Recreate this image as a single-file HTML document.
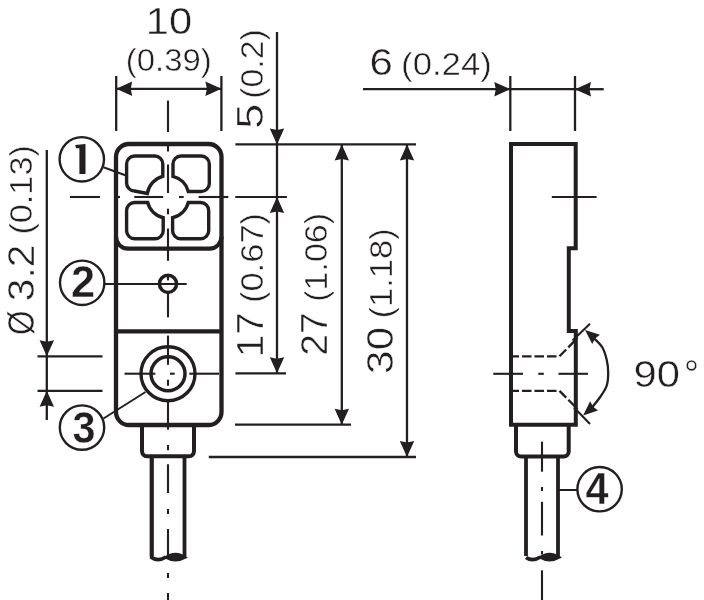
<!DOCTYPE html>
<html><head><meta charset="utf-8"><style>
html,body{margin:0;padding:0;background:#fff;width:704px;height:600px;overflow:hidden}
svg{display:block;will-change:transform}
text{font-family:"Liberation Sans",sans-serif;fill:#231f20;stroke:#fff;stroke-width:0.45px}
text[font-weight=bold]{stroke-width:0.4px}
</style></head><body>
<svg width="704" height="600" viewBox="0 0 704 600">
<g fill="none" stroke="#231f20" stroke-linecap="butt">
<path d="M116,157 A13,13 0 0 1 129,144 H208.5 A13,13 0 0 1 221.5,157 V412 A13,13 0 0 1 208.5,425 H129 A13,13 0 0 1 116,412 Z" stroke-width="4.3"/>
<path d="M116,236.5 A12,12 0 0 0 128,248.7 H209.5 A12,12 0 0 0 221.5,236.5" stroke-width="4.2"/>
<line x1="116" y1="331.3" x2="221.5" y2="331.3" stroke-width="4.2"/>
<path d="M126.6,164 A8,8 0 0 1 134.6,156 H154.8 A8,8 0 0 1 162.8,164 V176.3 A21,21 0 0 0 147.3,193.4 L134.6,191 A8,8 0 0 1 126.6,183 Z" stroke-width="3.4"/>
<path d="M173,176.3 V164 A8,8 0 0 1 181,156 H201.3 A8,8 0 0 1 209.3,164 V183.5 A8,8 0 0 1 201.3,191.5 H188.3 A21,21 0 0 0 173,176.3 Z" stroke-width="3.4"/>
<path d="M126.6,210.5 A8,8 0 0 1 134.6,202.5 H147.7 A21,21 0 0 0 163.2,217.6 V230.7 A8,8 0 0 1 155.2,238.7 H134.6 A8,8 0 0 1 126.6,230.7 Z" stroke-width="3.4"/>
<path d="M172.6,217.6 A21,21 0 0 0 188.3,202.5 H200.7 A8,8 0 0 1 208.7,210.5 V230.7 A8,8 0 0 1 200.7,238.7 H180.6 A8,8 0 0 1 172.6,230.7 Z" stroke-width="3.4"/>
<circle cx="168" cy="283.8" r="8.6" stroke-width="3.5"/>
<circle cx="168" cy="373.7" r="27" stroke-width="3.4"/>
<circle cx="168" cy="373.7" r="17" stroke-width="3.5"/>
<path d="M142,425 V451.3 A5,5 0 0 0 147,456.3 H189 A5,5 0 0 0 194,451.3 V425" stroke-width="4"/>
<path d="M151.7,456 V557.5 Q158,562 166,557" stroke-width="3.8"/>
<path d="M151.7,456 V556" stroke-width="3.8"/>
<path d="M184.5,456 V556" stroke-width="3.8"/>
<path d="M165,557.4 Q175.5,550 186,557.4 Q175.5,563.5 165,557.4 Z" fill="#231f20" stroke-width="2"/>
<line x1="168" y1="100.5" x2="168" y2="132" stroke-width="2.1"/>
<line x1="168" y1="146" x2="168" y2="151.5" stroke-width="2.1"/>
<line x1="168" y1="164.5" x2="168" y2="193" stroke-width="2.1"/>
<line x1="168" y1="208.7" x2="168" y2="214.3" stroke-width="2.1"/>
<line x1="168" y1="228.5" x2="168" y2="260.8" stroke-width="2.1"/>
<line x1="168" y1="276.7" x2="168" y2="280.4" stroke-width="2.1"/>
<line x1="168" y1="292" x2="168" y2="317.4" stroke-width="2.1"/>
<line x1="168" y1="335.6" x2="168" y2="364.8" stroke-width="2.1"/>
<line x1="168" y1="379.7" x2="168" y2="385.7" stroke-width="2.1"/>
<line x1="168" y1="400.3" x2="168" y2="429.7" stroke-width="2.1"/>
<line x1="168" y1="445" x2="168" y2="450.3" stroke-width="2.1"/>
<line x1="168" y1="464.3" x2="168" y2="493" stroke-width="2.1"/>
<line x1="168" y1="509" x2="168" y2="514" stroke-width="2.1"/>
<line x1="168" y1="529" x2="168" y2="556" stroke-width="2.1"/>
<line x1="168" y1="573" x2="168" y2="578" stroke-width="2.1"/>
<line x1="168" y1="593" x2="168" y2="600" stroke-width="2.1"/>
<line x1="70" y1="197" x2="100" y2="197" stroke-width="2.1"/>
<line x1="116" y1="197" x2="120" y2="197" stroke-width="2.1"/>
<line x1="134.3" y1="197" x2="163.2" y2="197" stroke-width="2.1"/>
<line x1="179" y1="197" x2="183.7" y2="197" stroke-width="2.1"/>
<line x1="198.6" y1="197" x2="228.3" y2="197" stroke-width="2.1"/>
<line x1="235.3" y1="197" x2="286.9" y2="197" stroke-width="2.1"/>
<line x1="105" y1="284" x2="186.7" y2="284" stroke-width="2.1"/>
<line x1="124.5" y1="373.7" x2="155.3" y2="373.7" stroke-width="2.1"/>
<line x1="170" y1="373.7" x2="174.7" y2="373.7" stroke-width="2.1"/>
<line x1="189.3" y1="373.7" x2="219" y2="373.7" stroke-width="2.1"/>
<line x1="116.2" y1="76" x2="116.2" y2="131" stroke-width="2.3"/>
<line x1="221.4" y1="76" x2="221.4" y2="131" stroke-width="2.3"/>
<line x1="117" y1="88.8" x2="221" y2="88.8" stroke-width="2.3"/>
<path d="M116.20,88.80 L132.20,81.60 L130.70,88.80 L132.20,96.00Z" fill="#231f20" stroke="none"/>
<path d="M221.40,88.80 L205.40,96.00 L206.90,88.80 L205.40,81.60Z" fill="#231f20" stroke="none"/>
<line x1="277" y1="32" x2="277" y2="373.3" stroke-width="2.3"/>
<path d="M277.00,144.40 L269.80,128.40 L277.00,129.90 L284.20,128.40Z" fill="#231f20" stroke="none"/>
<path d="M277.00,197.00 L284.20,213.00 L277.00,211.50 L269.80,213.00Z" fill="#231f20" stroke="none"/>
<path d="M277.00,373.30 L269.80,357.30 L277.00,358.80 L284.20,357.30Z" fill="#231f20" stroke="none"/>
<line x1="235.4" y1="144.4" x2="416" y2="144.4" stroke-width="2.3"/>
<line x1="235.4" y1="373.3" x2="286" y2="373.3" stroke-width="2.3"/>
<line x1="341.8" y1="144.4" x2="341.8" y2="424.7" stroke-width="2.3"/>
<path d="M341.80,144.40 L349.00,160.40 L341.80,158.90 L334.60,160.40Z" fill="#231f20" stroke="none"/>
<path d="M341.80,424.70 L334.60,408.70 L341.80,410.20 L349.00,408.70Z" fill="#231f20" stroke="none"/>
<line x1="235" y1="424.7" x2="351" y2="424.7" stroke-width="2.3"/>
<line x1="407" y1="144.4" x2="407" y2="457" stroke-width="2.3"/>
<path d="M407.00,144.40 L414.20,160.40 L407.00,158.90 L399.80,160.40Z" fill="#231f20" stroke="none"/>
<path d="M407.00,457.00 L399.80,441.00 L407.00,442.50 L414.20,441.00Z" fill="#231f20" stroke="none"/>
<line x1="208.8" y1="457" x2="416" y2="457" stroke-width="2.3"/>
<line x1="46.8" y1="150" x2="46.8" y2="420" stroke-width="2.3"/>
<path d="M46.80,356.30 L39.60,340.30 L46.80,341.80 L54.00,340.30Z" fill="#231f20" stroke="none"/>
<path d="M46.80,390.80 L54.00,406.80 L46.80,405.30 L39.60,406.80Z" fill="#231f20" stroke="none"/>
<line x1="37.5" y1="356.3" x2="102.5" y2="356.3" stroke-width="2.3"/>
<line x1="37.5" y1="390.8" x2="102.5" y2="390.8" stroke-width="2.3"/>
<circle cx="81.8" cy="159.3" r="22.2" stroke-width="2.4"/>
<circle cx="82.2" cy="282.8" r="22.2" stroke-width="2.4"/>
<circle cx="82" cy="427.6" r="22.2" stroke-width="2.4"/>
<circle cx="599.6" cy="489.2" r="22.2" stroke-width="2.4"/>
<line x1="103.5" y1="167.3" x2="126" y2="175.5" stroke-width="2.0"/>
<line x1="103.5" y1="418.5" x2="145.5" y2="392" stroke-width="2.0"/>
<line x1="577.5" y1="490" x2="558" y2="490" stroke-width="2.0"/>
<path d="M511,144 H575.7 V248.3 H568.8 V331 H575.8 V424.7 H511 Z" stroke-width="4" stroke-linejoin="miter"/>
<path d="M516,425 V451.5 A5,5 0 0 0 521,456.5 H563.7 A5,5 0 0 0 568.7,451.5 V425" stroke-width="4"/>
<path d="M526,456 V556" stroke-width="3.8"/>
<path d="M558,456 V556" stroke-width="3.8"/>
<path d="M526,557.5 Q532.5,562 540.5,557" stroke-width="3.8"/>
<path d="M539.5,557.4 Q549.5,550 560,557.4 Q549.5,563.5 539.5,557.4 Z" fill="#231f20" stroke-width="2"/>
<path d="M509.5,356.3 H559.5 L577.5,338" stroke-width="2.3" stroke-dasharray="9.5,3"/>
<path d="M509.5,390.9 H559.5 L577.5,409" stroke-width="2.3" stroke-dasharray="9.5,3"/>
<line x1="572.5" y1="340.4" x2="590" y2="323.7" stroke-width="2.1"/>
<line x1="574" y1="407.5" x2="590" y2="424" stroke-width="2.1"/>
<path d="M593,337.2 C594.54,338.88 599.96,343.45 602.25,347.25 C604.54,351.05 605.76,355.71 606.75,360 C607.74,364.29 608.20,368.75 608.2,373 C608.20,377.25 607.99,381.62 606.75,385.5 C605.51,389.38 603.21,392.58 600.75,396.25 C598.29,399.92 593.46,405.62 592,407.5" stroke-width="2.3"/>
<path d="M585.00,330.00 L599.95,334.77 L595.16,338.58 L592.21,343.94Z" fill="#231f20" stroke="none"/>
<path d="M583.10,415.40 L590.11,401.36 L593.14,406.68 L597.98,410.42Z" fill="#231f20" stroke="none"/>
<line x1="551.8" y1="197" x2="596.6" y2="197" stroke-width="2.1"/>
<line x1="493.3" y1="373.8" x2="523" y2="373.8" stroke-width="2.1"/>
<line x1="538.3" y1="373.8" x2="543.8" y2="373.8" stroke-width="2.1"/>
<line x1="558.5" y1="373.8" x2="588" y2="373.8" stroke-width="2.1"/>
<line x1="542" y1="441.7" x2="542" y2="471.7" stroke-width="2.1"/>
<line x1="542" y1="487" x2="542" y2="491" stroke-width="2.1"/>
<line x1="542" y1="501.8" x2="542" y2="535.5" stroke-width="2.1"/>
<line x1="542" y1="551" x2="542" y2="554.5" stroke-width="2.1"/>
<line x1="542" y1="570.3" x2="542" y2="600" stroke-width="2.1"/>
<line x1="510.3" y1="76" x2="510.3" y2="131" stroke-width="2.3"/>
<line x1="575" y1="76" x2="575" y2="131" stroke-width="2.3"/>
<line x1="363" y1="89.2" x2="510" y2="89.2" stroke-width="2.3"/>
<line x1="510" y1="89.2" x2="575" y2="89.2" stroke-width="2.3"/>
<line x1="575" y1="89.2" x2="603.7" y2="89.2" stroke-width="2.3"/>
<path d="M510.30,89.20 L494.30,96.40 L495.80,89.20 L494.30,82.00Z" fill="#231f20" stroke="none"/>
<path d="M575.00,89.20 L591.00,82.00 L589.50,89.20 L591.00,96.40Z" fill="#231f20" stroke="none"/>
<path d="M75.2,144.9 L85.5,144.1 V174 H79.4 V148.3 H76 Z" fill="#231f20" stroke="none"/>
<text x="145.75" y="33.5" font-size="37" font-weight="normal" textLength="46.40" lengthAdjust="spacingAndGlyphs">10</text>
<text x="125.88" y="71.2" font-size="31" font-weight="normal" textLength="85.83" lengthAdjust="spacingAndGlyphs">(0.39)</text>
<text x="369.40" y="75" font-size="37" font-weight="normal" textLength="23.37" lengthAdjust="spacingAndGlyphs">6</text>
<text x="401.09" y="75" font-size="31" font-weight="normal" textLength="90.73" lengthAdjust="spacingAndGlyphs">(0.24)</text>
<text x="633.44" y="386.5" font-size="37" font-weight="normal" textLength="46.41" lengthAdjust="spacingAndGlyphs">90</text>
<text x="684.05" y="387.7" font-size="40" font-weight="normal" textLength="15.00" lengthAdjust="spacingAndGlyphs">°</text>
<text transform="translate(262.5,128.81) rotate(-90)" x="0" y="0" font-size="37" font-weight="normal" textLength="25.12" lengthAdjust="spacingAndGlyphs">5</text>
<text transform="translate(262.5,98.68) rotate(-90)" x="0" y="0" font-size="31" font-weight="normal" textLength="69.36" lengthAdjust="spacingAndGlyphs">(0.2)</text>
<text transform="translate(262.7,357.15) rotate(-90)" x="0" y="0" font-size="37" font-weight="normal" textLength="44.94" lengthAdjust="spacingAndGlyphs">17</text>
<text transform="translate(262.5,303.10) rotate(-90)" x="0" y="0" font-size="31" font-weight="normal" textLength="90.21" lengthAdjust="spacingAndGlyphs">(0.67)</text>
<text transform="translate(326.8,355.74) rotate(-90)" x="0" y="0" font-size="37" font-weight="normal" textLength="43.48" lengthAdjust="spacingAndGlyphs">27</text>
<text transform="translate(326.5,301.78) rotate(-90)" x="0" y="0" font-size="31" font-weight="normal" textLength="88.85" lengthAdjust="spacingAndGlyphs">(1.06)</text>
<text transform="translate(392.8,373.88) rotate(-90)" x="0" y="0" font-size="37" font-weight="normal" textLength="47.07" lengthAdjust="spacingAndGlyphs">30</text>
<text transform="translate(392,318.51) rotate(-90)" x="0" y="0" font-size="31" font-weight="normal" textLength="90.31" lengthAdjust="spacingAndGlyphs">(1.18)</text>
<text transform="translate(33.7,335.07) rotate(-90)" x="0" y="0" font-size="37" font-weight="normal" textLength="24.55" lengthAdjust="spacingAndGlyphs">Ø</text>
<text transform="translate(33.7,301.19) rotate(-90)" x="0" y="0" font-size="37" font-weight="normal" textLength="56.45" lengthAdjust="spacingAndGlyphs">3.2</text>
<text transform="translate(32.3,234.54) rotate(-90)" x="0" y="0" font-size="31" font-weight="normal" textLength="89.32" lengthAdjust="spacingAndGlyphs">(0.13)</text>
<text x="71.05" y="297" font-size="45" font-weight="bold" textLength="24.14" lengthAdjust="spacingAndGlyphs">2</text>
<text x="72.58" y="443" font-size="45" font-weight="bold" textLength="23.03" lengthAdjust="spacingAndGlyphs">3</text>
<text x="585.61" y="504.3" font-size="45" font-weight="bold" textLength="23.02" lengthAdjust="spacingAndGlyphs">4</text>
</g>
</svg>
</body></html>
